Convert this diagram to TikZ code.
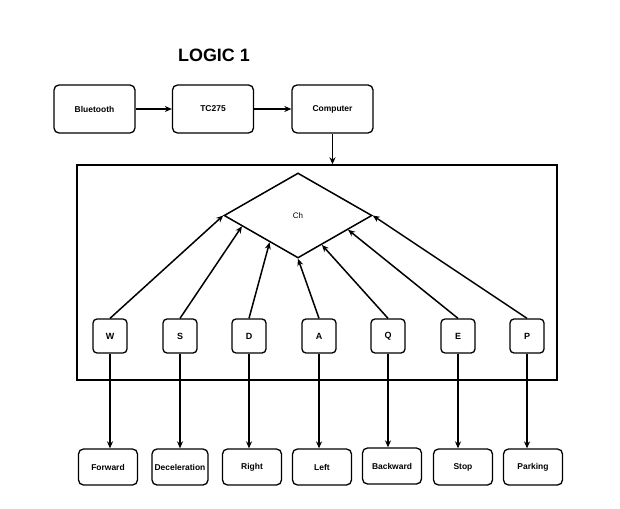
\documentclass[tikz,border=0pt]{standalone}
\usepackage{fontspec}
\setmainfont{Liberation Sans}
\usetikzlibrary{shapes.geometric,arrows.meta,calc}

\begin{document}
\begin{tikzpicture}[x=1bp, y=-1bp,
    block/.style={draw, line width=1.3bp, rounded corners=5bp, minimum width=81bp, minimum height=48bp, inner sep=1bp, font=\fontsize{8.5}{10}\selectfont\bfseries},
    keybox/.style={draw, line width=1.3bp, rounded corners=4bp, minimum width=34bp, minimum height=34bp, inner sep=1bp, font=\fontsize{9}{10}\selectfont\bfseries},
    outbox/.style={draw, line width=1.3bp, rounded corners=5bp, minimum width=59bp, minimum height=36bp, inner sep=1bp, font=\fontsize{8.5}{10}\selectfont\bfseries},
    arr/.style={draw, line width=1.5bp, -{Stealth[length=7bp, width=6bp]}}]
    \useasboundingbox (0,0) rectangle (620,509);

    \node[font=\fontsize{18}{20}\selectfont\bfseries] (title) at (214,55) {LOGIC 1};

    \node[block] (bluetooth) at (94.5,109) {Bluetooth};
    \node[block] (tc) at (213,109) {TC275};
    \node[block] (computer) at (332.5,109) {Computer};

    \node[draw, line width=1.4bp, minimum width=480bp, minimum height=215bp] (frame) at (317,272.5) {};
    \node[draw, line width=1.5bp, diamond, minimum width=148bp, minimum height=85bp, inner sep=0pt, font=\fontsize{8}{10}\selectfont] (ch) at (298,215.5) {Ch};

    \node[keybox] (keyw) at (110,336) {W};
    \node[keybox] (keys) at (180,336) {S};
    \node[keybox] (keyd) at (249,336) {D};
    \node[keybox] (keya) at (319,336) {A};
    \node[keybox] (keyq) at (388,336) {Q};
    \node[keybox] (keye) at (458,336) {E};
    \node[keybox] (keyp) at (527,336) {P};

    \node[outbox] (forward) at (108,467) {Forward};
    \node[outbox, minimum width=56bp] (decel) at (180,467) {Deceleration};
    \node[outbox] (right) at (252,467) {Right};
    \node[outbox] (left) at (322,467) {Left};
    \node[outbox] (backward) at (392,466) {Backward};
    \node[outbox] (stop) at (463,467) {Stop};
    \node[outbox] (parking) at (533,467) {Parking};

    \draw[arr] (bluetooth) -- (tc);
    \draw[arr] (tc) -- (computer);
    \draw[arr] (computer.south) -- (computer.south |- frame.north);

    \draw[arr] (keyw.north) -- (ch.west);
    \draw[arr] (keys.north) -- ($(ch.west)!0.25!(ch.south)$);
    \draw[arr] (keyd.north) -- ($(ch.west)!0.62!(ch.south)$);
    \draw[arr] (keya.north) -- (ch.south);
    \draw[arr] (keyq.north) -- ($(ch.south)!0.32!(ch.east)$);
    \draw[arr] (keye.north) -- ($(ch.south)!0.67!(ch.east)$);
    \draw[arr] (keyp.north) -- (ch.east);

    \draw[arr] (keyw.south) -- (keyw.south |- forward.north);
    \draw[arr] (keys.south) -- (keys.south |- decel.north);
    \draw[arr] (keyd.south) -- (keyd.south |- right.north);
    \draw[arr] (keya.south) -- (keya.south |- left.north);
    \draw[arr] (keyq.south) -- (keyq.south |- backward.north);
    \draw[arr] (keye.south) -- (keye.south |- stop.north);
    \draw[arr] (keyp.south) -- (keyp.south |- parking.north);
\end{tikzpicture}
\end{document}
